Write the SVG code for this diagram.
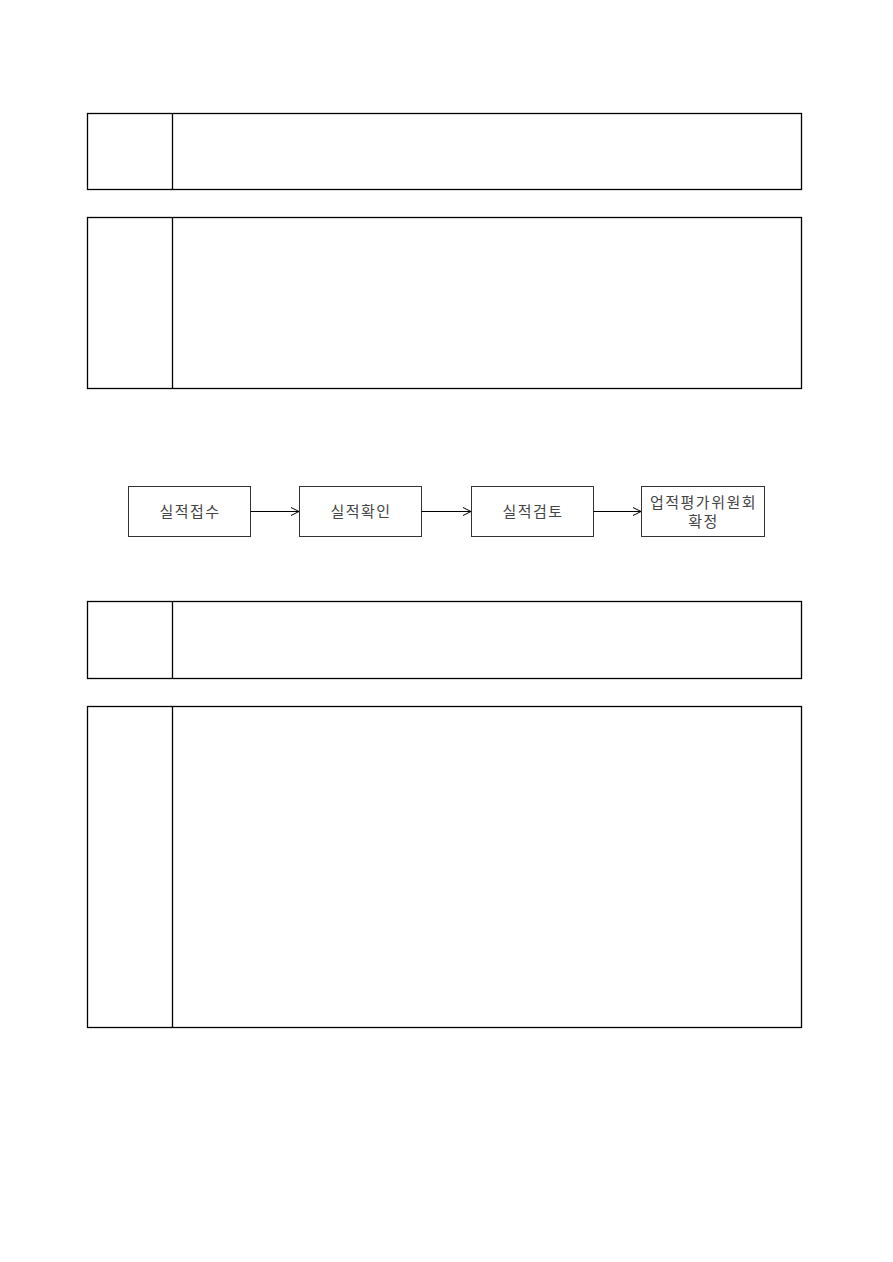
<svg xmlns="http://www.w3.org/2000/svg" width="893" height="1262" viewBox="0 0 893 1262">
<style>
.tbl{fill:none;stroke:#000;stroke-width:1.3}
.box{fill:#fff;stroke:#333;stroke-width:1}
.lbl{font-family:"Noto Sans CJK KR","Liberation Sans",sans-serif;font-size:15px;fill:#444;text-anchor:middle;letter-spacing:1.5px}
.con{stroke:#000;stroke-width:1;fill:none}
</style>
<defs>
<marker id="ah" markerWidth="10" markerHeight="10" refX="9" refY="5" orient="auto" markerUnits="userSpaceOnUse">
<path d="M1,1 L9,5 L1,9" fill="none" stroke="#000" stroke-width="1"/>
</marker>
</defs>
<rect width="893" height="1262" fill="#fff"/>
<g id="table1"><rect class="tbl" x="87.5" y="113.5" width="714" height="76"/><line class="tbl" x1="172.5" y1="113.5" x2="172.5" y2="189.5"/></g>
<g id="table2"><rect class="tbl" x="87.5" y="217.5" width="714" height="171"/><line class="tbl" x1="172.5" y1="217.5" x2="172.5" y2="388.5"/></g>
<g id="table3"><rect class="tbl" x="87.5" y="601.5" width="714" height="77"/><line class="tbl" x1="172.5" y1="601.5" x2="172.5" y2="678.5"/></g>
<g id="table4"><rect class="tbl" x="87.5" y="706.5" width="714" height="321"/><line class="tbl" x1="172.5" y1="706.5" x2="172.5" y2="1027.5"/></g>
<g id="n1"><rect class="box" x="128.5" y="486.5" width="122" height="50"/><text class="lbl" x="190" y="517">실적접수</text></g>
<g id="n2"><rect class="box" x="299.5" y="486.5" width="122" height="50"/><text class="lbl" x="361" y="517">실적확인</text></g>
<g id="n3"><rect class="box" x="471.5" y="486.5" width="122" height="50"/><text class="lbl" x="533" y="517">실적검토</text></g>
<g id="n4"><rect class="box" x="641.5" y="486.5" width="123" height="50"/><text class="lbl" x="703.5" y="508">업적평가위원회</text><text class="lbl" x="703.5" y="527">확정</text></g>
<g id="connectors">
<line class="con" x1="250.5" y1="511.5" x2="299" y2="511.5" marker-end="url(#ah)"/>
<line class="con" x1="421.5" y1="511.5" x2="471" y2="511.5" marker-end="url(#ah)"/>
<line class="con" x1="593.5" y1="511.5" x2="641" y2="511.5" marker-end="url(#ah)"/>
</g>
</svg>
